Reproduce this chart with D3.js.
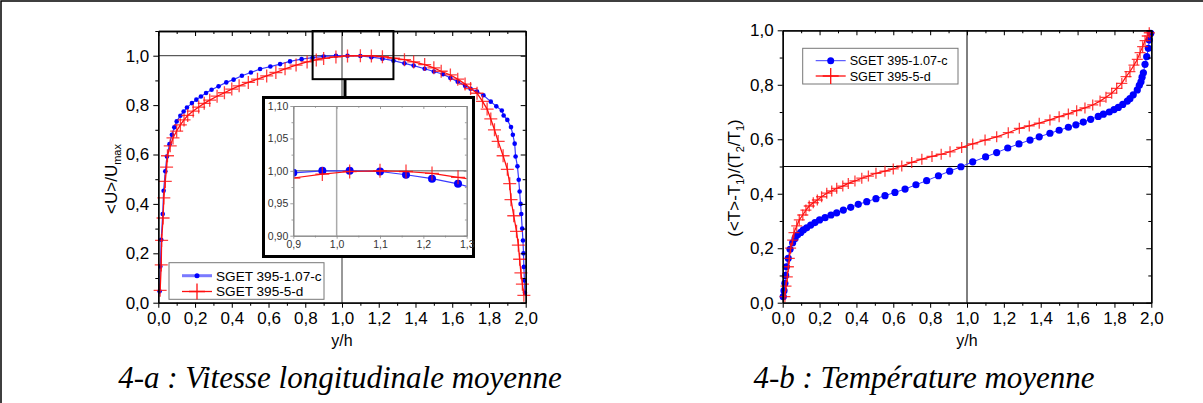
<!DOCTYPE html>
<meta charset="utf-8">
<style>
    body { margin: 0; background: #fff; }
    svg text { font-family: "Liberation Sans", Arial, sans-serif; fill: #000; }
    .axis path, .axis line { stroke: #000; }
    .inset .axis path, .inset .axis line { stroke: #888; }
    .inset .axis text { fill: #333; }
    .title { font-family: "Liberation Serif", "Times New Roman", serif; font-style: italic; font-size: 31px; }
</style>
<svg width="1203" height="403"></svg>
<script src="https://d3js.org/d3.v7.min.js"></script>
<script>
    // 4-a : mean streamwise velocity <U>/Umax against y/h
    var uBlueX = [0.007,0.011,0.016,0.024,0.029,0.038,0.047,0.061,0.074,0.087,0.10,0.12,0.138,0.156,0.183,0.207,0.232,0.26,0.29,0.328,0.37,0.41,0.455,0.504,0.554,0.61,0.663,0.717,0.78,0.84,0.90,0.967,1.03,1.10,1.16,1.22,1.28,1.34,1.39,1.45,1.50,1.55,1.59,1.63,1.67,1.70,1.735,1.77,1.81,1.84,1.87,1.88,1.90,1.92,1.93,1.94,1.945,1.955,1.962,1.967,1.972,1.976,1.981,1.985,1.988,1.99,1.993,1.996];
    var uBlueY = [0.046,0.147,0.255,0.359,0.453,0.532,0.592,0.642,0.68,0.71,0.734,0.757,0.774,0.79,0.808,0.822,0.835,0.849,0.862,0.876,0.892,0.903,0.919,0.932,0.946,0.956,0.966,0.977,0.986,0.992,0.997,1.0,1.0,0.999,0.994,0.988,0.98,0.969,0.96,0.947,0.936,0.925,0.91,0.895,0.878,0.866,0.855,0.84,0.814,0.795,0.778,0.758,0.74,0.711,0.68,0.644,0.592,0.552,0.498,0.45,0.40,0.359,0.30,0.252,0.20,0.145,0.09,0.04];
    var uRedX = [0.01,0.016,0.018,0.026,0.03,0.038,0.045,0.05,0.065,0.08,0.10,0.12,0.14,0.16,0.19,0.22,0.25,0.28,0.32,0.36,0.40,0.44,0.49,0.54,0.59,0.64,0.69,0.75,0.81,0.86,0.90,0.967,1.03,1.10,1.16,1.22,1.28,1.34,1.39,1.45,1.50,1.54,1.59,1.63,1.67,1.70,1.735,1.765,1.79,1.81,1.83,1.85,1.877,1.90,1.913,1.92,1.935,1.95,1.96,1.967,1.974,1.982,1.99];
    var uRedY = [0.05,0.153,0.252,0.343,0.424,0.491,0.549,0.595,0.635,0.667,0.695,0.72,0.74,0.758,0.776,0.792,0.807,0.82,0.836,0.85,0.865,0.878,0.892,0.905,0.918,0.932,0.947,0.962,0.975,0.983,0.989,0.995,0.999,1.0,0.999,0.996,0.99,0.984,0.975,0.964,0.951,0.937,0.922,0.905,0.885,0.867,0.848,0.815,0.784,0.744,0.70,0.653,0.595,0.540,0.482,0.417,0.352,0.289,0.233,0.176,0.121,0.075,0.03];

    // 4-b : mean temperature (<T>-T1)/(T2/T1) against y/h
    var tBlueX = [0.003,0.007,0.012,0.016,0.02,0.03,0.04,0.054,0.067,0.081,0.098,0.112,0.13,0.152,0.175,0.2,0.23,0.262,0.293,0.329,0.369,0.41,0.456,0.506,0.555,0.609,0.664,0.723,0.781,0.845,0.906,0.967,1.031,1.101,1.161,1.221,1.282,1.342,1.392,1.45,1.50,1.55,1.591,1.631,1.671,1.712,1.74,1.772,1.798,1.821,1.845,1.87,1.884,1.902,1.924,1.935,1.944,1.95,1.957,1.966,1.975,1.984,1.989,1.997];
    var tBlueY = [0.022,0.044,0.071,0.10,0.132,0.163,0.196,0.22,0.236,0.249,0.258,0.267,0.275,0.285,0.294,0.304,0.312,0.322,0.33,0.34,0.35,0.361,0.371,0.382,0.393,0.405,0.417,0.433,0.448,0.466,0.483,0.499,0.517,0.535,0.551,0.568,0.583,0.597,0.609,0.622,0.633,0.644,0.653,0.663,0.673,0.684,0.692,0.70,0.709,0.717,0.728,0.74,0.749,0.763,0.781,0.798,0.811,0.828,0.844,0.875,0.903,0.934,0.964,0.989];
    var tRedX = [0.012,0.018,0.025,0.031,0.036,0.043,0.054,0.061,0.076,0.09,0.109,0.126,0.144,0.166,0.188,0.211,0.239,0.266,0.293,0.326,0.356,0.392,0.429,0.465,0.506,0.555,0.60,0.646,0.70,0.755,0.81,0.86,0.908,0.971,1.031,1.098,1.161,1.224,1.284,1.338,1.392,1.45,1.50,1.55,1.595,1.64,1.682,1.722,1.754,1.785,1.812,1.84,1.863,1.884,1.906,1.924,1.939,1.953,1.966,1.978,1.989];
    var tRedY = [0.022,0.061,0.095,0.132,0.163,0.20,0.23,0.257,0.282,0.304,0.322,0.34,0.355,0.367,0.377,0.389,0.402,0.41,0.42,0.428,0.438,0.447,0.457,0.465,0.475,0.483,0.491,0.502,0.515,0.527,0.537,0.545,0.554,0.57,0.583,0.597,0.609,0.624,0.64,0.649,0.659,0.671,0.683,0.693,0.705,0.715,0.726,0.74,0.754,0.769,0.787,0.805,0.83,0.848,0.872,0.893,0.918,0.94,0.962,0.979,0.991];

    var seriesNames = ["SGET 395-1.07-c", "SGET 395-5-d"];
    var xMajor = [0,0.2,0.4,0.6,0.8,1.0,1.2,1.4,1.6,1.8,2.0];
    var xMinor = [0.1,0.3,0.5,0.7,0.9,1.1,1.3,1.5,1.7,1.9];
    var yMajor = [0,0.2,0.4,0.6,0.8,1.0];
    var yMinor = [0.1,0.3,0.5,0.7,0.9];
    var insetXMajor = [0.9,1.0,1.1,1.2,1.3];
    var insetXMinor = [0.95,1.05,1.15,1.25];
    var insetYMajor = [0.90,0.95,1.00,1.05,1.10];
    var insetYMinor = [0.925,0.975,1.025,1.075];
    var titles = ["4-a : Vitesse longitudinale moyenne", "4-b : Température moyenne"];

    var BLUE = "#0000ff", BLUE_LINE = "#3a3aff", RED = "#ff1010";

    var svg = d3.select("svg");

    var fmt1 = function(d) { return d3.format(".1f")(d).replace(".", ","); };
    var fmt2 = function(d) { return d3.format(".2f")(d).replace(".", ","); };
    function zip(xs, ys) { return xs.map(function(v, i) { return [v, ys[i]]; }); }

    // page frame (left and top edges of the table cell)
    svg.append("path").attr("d", "M1,403V1H1203").attr("fill", "none").attr("stroke", "#000").attr("stroke-width", 1.5);

    function frame(g, x, y, o) {
        var w = x.range(), h = y.range();
        function ax(gen, tr, vals, size, f, fs) {
            var a = g.append("g").attr("class", "axis").attr("transform", tr)
                .call(gen.tickValues(vals).tickSizeInner(size).tickSizeOuter(0).tickPadding(o.pad).tickFormat(f || ""));
            a.select(".domain").attr("stroke-width", o.sw);
            a.selectAll("line").attr("stroke-width", o.sw * 0.8);
            a.selectAll("text").style("font-size", fs + "px");
            return a;
        }
        ax(d3.axisBottom(x), "translate(0," + h[0] + ")", o.xMajor, o.tl, o.xf, o.fs);
        ax(d3.axisBottom(x), "translate(0," + h[0] + ")", o.xMinor, o.tl * 0.6);
        ax(d3.axisLeft(y), "translate(" + w[0] + ",0)", o.yMajor, o.tl, o.yf, o.fs);
        ax(d3.axisLeft(y), "translate(" + w[0] + ",0)", o.yMinor, o.tl * 0.6);
        ax(d3.axisTop(x), "translate(0," + h[1] + ")", o.xMajor, -o.tl);
        ax(d3.axisTop(x), "translate(0," + h[1] + ")", o.xMinor, -o.tl * 0.6);
        ax(d3.axisRight(y), "translate(" + w[1] + ",0)", o.yMajor, -o.tl);
        ax(d3.axisRight(y), "translate(" + w[1] + ",0)", o.yMinor, -o.tl * 0.6);
    }

    function series(g, x, y, pts, kind, size, lw) {
        var line = d3.line().x(function(d) { return x(d[0]); }).y(function(d) { return y(d[1]); });
        g.append("path").datum(pts).attr("d", line).attr("fill", "none")
            .attr("stroke", kind === "dot" ? BLUE_LINE : RED).attr("stroke-width", lw);
        if (kind === "dot") {
            g.selectAll(null).data(pts).enter().append("circle")
                .attr("cx", function(d) { return x(d[0]); })
                .attr("cy", function(d) { return y(d[1]); })
                .attr("r", size).attr("fill", BLUE);
        } else {
            g.selectAll(null).data(pts).enter().append("path")
                .attr("transform", function(d) { return "translate(" + x(d[0]) + "," + y(d[1]) + ")"; })
                .attr("d", "M" + (-size) + ",0H" + size + "M0," + (-size) + "V" + size)
                .attr("stroke", RED).attr("stroke-opacity", 0.8).attr("stroke-width", 1.3);
        }
    }

    function legend(g, box, rows, fs, lineW) {
        g.append("rect").attr("x", box[0]).attr("y", box[1]).attr("width", box[2] - box[0]).attr("height", box[3] - box[1])
            .attr("fill", "#fff").attr("stroke", "#777").attr("stroke-width", 1);
        rows.forEach(function(r, i) {
            var yy = r.y, x0 = box[0] + 13, x1 = x0 + 30;
            g.append("line").attr("x1", x0).attr("x2", x1).attr("y1", yy).attr("y2", yy)
                .attr("stroke", i === 0 ? (lineW > 1.5 ? "#7a7aff" : BLUE_LINE) : RED)
                .attr("stroke-width", i === 0 ? lineW : 1.3);
            if (i === 0) g.append("circle").attr("cx", (x0 + x1) / 2).attr("cy", yy).attr("r", r.size).attr("fill", BLUE);
            else g.append("path").attr("transform", "translate(" + (x0 + x1) / 2 + "," + yy + ")")
                .attr("d", "M-8,0H8M0,-8V8").attr("stroke", RED).attr("stroke-width", 1.3);
            g.append("text").attr("x", x1 + 4).attr("y", yy).attr("dy", "0.36em").style("font-size", fs + "px").text(seriesNames[i]);
        });
    }

    // ---------- left panel ----------
    var gl = svg.append("g");
    var xl = d3.scaleLinear().domain([0, 2]).range([158.3, 525.7]);
    var yl = d3.scaleLinear().domain([0, 1.1]).range([302.7, 31]);

    gl.append("line").attr("x1", xl(0)).attr("x2", xl(2)).attr("y1", yl(1)).attr("y2", yl(1)).attr("stroke", "#333").attr("stroke-width", 1);
    gl.append("line").attr("x1", xl(1)).attr("x2", xl(1)).attr("y1", yl(0)).attr("y2", yl(1.1)).attr("stroke", "#333").attr("stroke-width", 1);
    series(gl, xl, yl, zip(uBlueX, uBlueY), "dot", 2.3, 1.2);
    series(gl, xl, yl, zip(uRedX, uRedY), "plus", 6.5, 1.3);
    frame(gl, xl, yl, { xMajor: xMajor, xMinor: xMinor, yMajor: yMajor, yMinor: yMinor.concat([1.1]),
        xf: fmt1, yf: fmt1, tl: 5, pad: 4, fs: 17, sw: 1.3 });

    // zoom window and connector
    gl.append("rect").attr("x", xl(0.84)).attr("y", yl(1.1)).attr("width", xl(1.28) - xl(0.84)).attr("height", yl(0.905) - yl(1.1))
        .attr("fill", "none").attr("stroke", "#000").attr("stroke-width", 2);
    gl.append("line").attr("x1", 345).attr("x2", 345).attr("y1", yl(0.905)).attr("y2", 97).attr("stroke", "#000").attr("stroke-width", 3);

    // inset
    var gi = svg.append("g").attr("class", "inset");
    gi.append("rect").attr("x", 263.5).attr("y", 97.5).attr("width", 210).attr("height", 159).attr("fill", "#fff").attr("stroke", "#000").attr("stroke-width", 3);
    var xi = d3.scaleLinear().domain([0.9, 1.3]).range([293.3, 466.7]);
    var yi = d3.scaleLinear().domain([0.9, 1.1]).range([235.7, 106]);
    svg.append("clipPath").attr("id", "clipInset").append("rect").attr("x", 293.3).attr("y", 106).attr("width", 173.4).attr("height", 129.7);
    gi.append("line").attr("x1", xi(1)).attr("x2", xi(1)).attr("y1", yi(0.9)).attr("y2", yi(1.1)).attr("stroke", "#aaa").attr("stroke-width", 1.5);
    gi.append("line").attr("x1", xi(0.9)).attr("x2", xi(1.3)).attr("y1", yi(1)).attr("y2", yi(1)).attr("stroke", "#555").attr("stroke-width", 1);
    var gic = gi.append("g").attr("clip-path", "url(#clipInset)");
    series(gic, xi, yi, zip(uBlueX, uBlueY), "dot", 4, 1.2);
    series(gic, xi, yi, zip(uRedX, uRedY), "plus", 7, 1.2);
    frame(gi, xi, yi, { xMajor: insetXMajor, xMinor: insetXMinor, yMajor: insetYMajor, yMinor: insetYMinor,
        xf: fmt1, yf: fmt2, tl: 3, pad: 2, fs: 10.5, sw: 1 });

    legend(gl, [169, 262.7, 324, 299.3], [{ y: 275.7, size: 2.5 }, { y: 291.5 }], 13.6, 3);

    gl.append("text").attr("x", xl(1)).attr("y", 346).attr("text-anchor", "middle").style("font-size", "16px").text("y/h");
    var lab = gl.append("text").attr("transform", "translate(117,179) rotate(-90)").attr("text-anchor", "middle").style("font-size", "17px");
    lab.append("tspan").text("<U>/U");
    lab.append("tspan").attr("dy", 4).style("font-size", "11px").text("max");
    gl.append("text").attr("class", "title").attr("x", 340).attr("y", 388).attr("text-anchor", "middle").text(titles[0]);

    // ---------- right panel ----------
    var gr = svg.append("g");
    var xr = d3.scaleLinear().domain([0, 2]).range([782.7, 1151.3]);
    var yr = d3.scaleLinear().domain([0, 1]).range([302.7, 30.3]);
    gr.append("line").attr("x1", xr(0)).attr("x2", xr(2)).attr("y1", yr(0.5)).attr("y2", yr(0.5)).attr("stroke", "#000").attr("stroke-width", 1);
    gr.append("line").attr("x1", xr(1)).attr("x2", xr(1)).attr("y1", yr(0)).attr("y2", yr(1)).attr("stroke", "#000").attr("stroke-width", 1);
    series(gr, xr, yr, zip(tBlueX, tBlueY), "dot", 3.6, 1);
    series(gr, xr, yr, zip(tRedX, tRedY), "plus", 5.5, 1.2);
    frame(gr, xr, yr, { xMajor: xMajor, xMinor: xMinor, yMajor: yMajor, yMinor: yMinor,
        xf: fmt1, yf: fmt1, tl: 5, pad: 4, fs: 17, sw: 1.3 });
    legend(gr, [802.7, 48.3, 958, 84], [{ y: 60.7, size: 3.5 }, { y: 76 }], 12.6, 1);

    gr.append("text").attr("x", xr(1)).attr("y", 346).attr("text-anchor", "middle").style("font-size", "16px").text("y/h");
    var lab2 = gr.append("text").attr("transform", "translate(740,178) rotate(-90)").attr("text-anchor", "middle").style("font-size", "17px");
    [["(<T>-T", ""], ["1", "sub"], [")/(T", ""], ["2", "sub"], ["/T", ""], ["1", "sub"], [")", ""]].forEach(function(p) {
        var t = lab2.append("tspan").text(p[0]);
        if (p[1] === "sub") t.attr("dy", 4).style("font-size", "11px");
        else if (p[0] !== "(<T>-T") t.attr("dy", -4);
    });
    gr.append("text").attr("class", "title").attr("x", 924).attr("y", 388).attr("text-anchor", "middle").text(titles[1]);
</script>
